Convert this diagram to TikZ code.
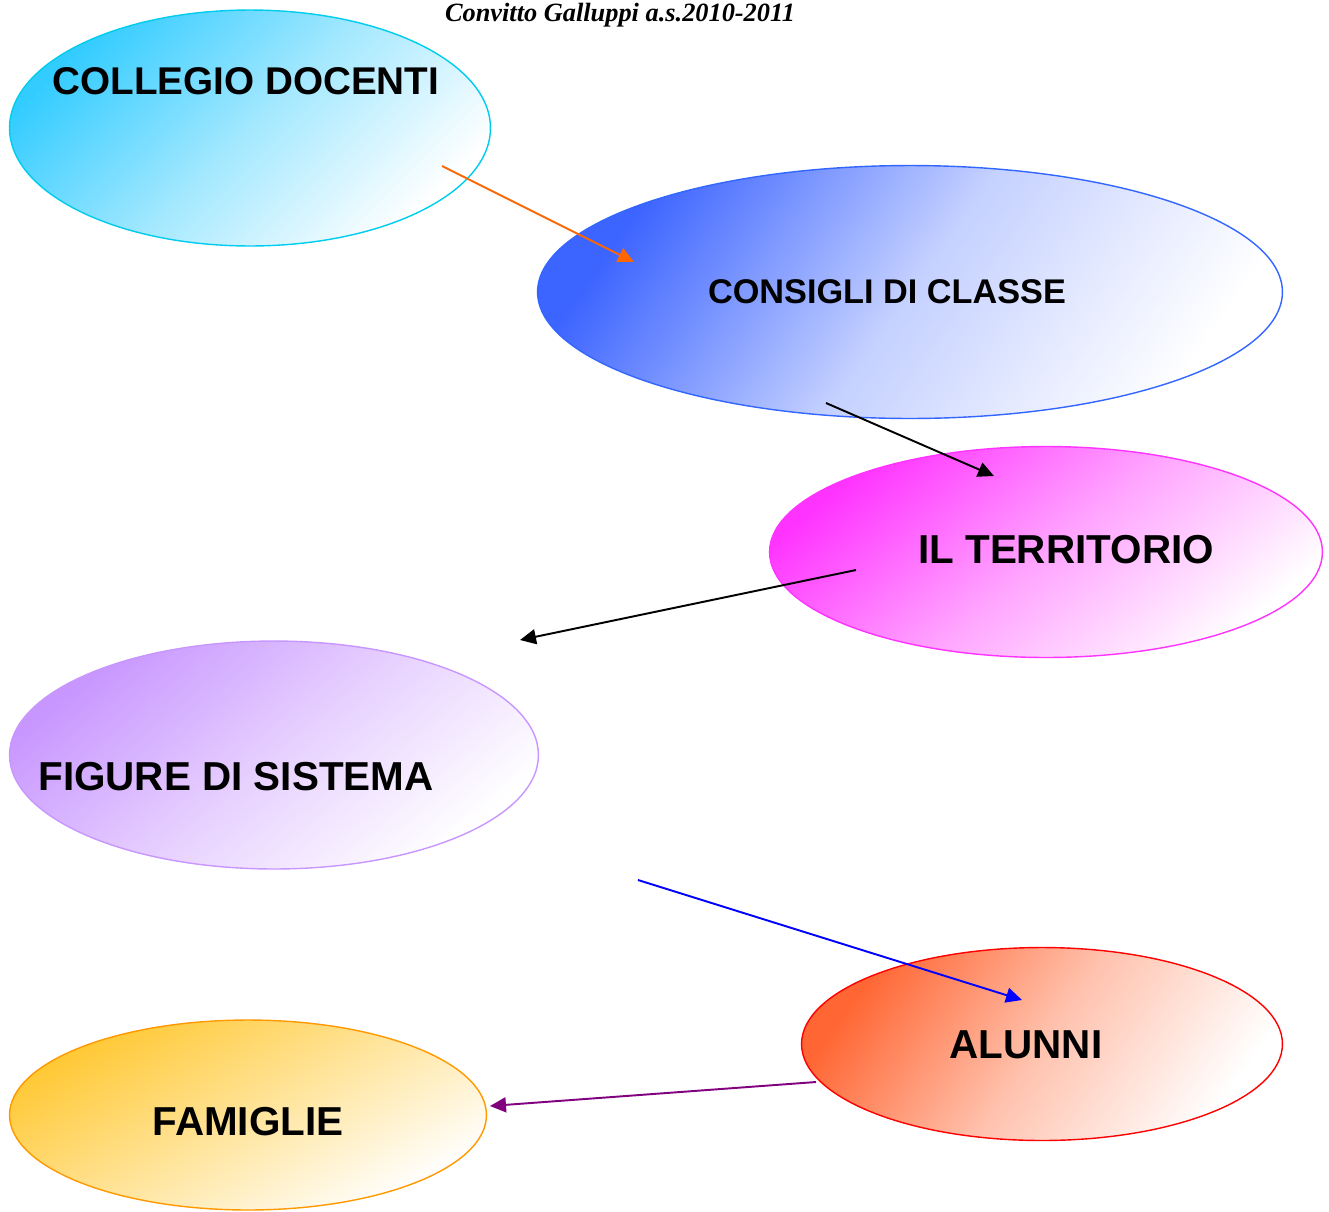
\documentclass[tikz,border=0pt]{standalone}
\usepackage{fontspec}
\setmainfont{Liberation Serif}
\setsansfont{Liberation Sans}
\usetikzlibrary{shapes.geometric,arrows.meta}

\definecolor{ciano}{RGB}{51,204,255}
\definecolor{cianobordo}{RGB}{0,204,238}
\definecolor{blu}{RGB}{60,100,255}
\definecolor{blubordo}{RGB}{51,102,255}
\definecolor{magenta}{RGB}{255,51,255}
\definecolor{lilla}{RGB}{200,150,255}
\definecolor{arancio}{RGB}{255,102,51}
\definecolor{giallo}{RGB}{255,200,51}
\definecolor{giallobordo}{RGB}{255,153,0}
\definecolor{freccia1}{RGB}{255,102,0}
\definecolor{viola}{RGB}{128,0,128}

\begin{document}
\begin{tikzpicture}[x=0.02cm,y=-0.02cm,
    bolla/.style={ellipse, line width=0.8pt, inner sep=0pt},
    testo/.style={font=\sffamily\bfseries\fontsize{23}{27}\selectfont, inner sep=0pt, anchor=base},
    freccia/.style={line width=1.1pt, -{Triangle[length=0.32cm,width=0.3cm]}}]
        \useasboundingbox (0,0) rectangle (1329,1211);

        % titolo
        \node[font=\bfseries\itshape\fontsize{15}{18}\selectfont, inner sep=0pt] (titolo) at (620,15) {Convitto Galluppi a.s.2010-2011};

        % ellissi
        \node[bolla, draw=cianobordo, top color=ciano, bottom color=white, middle color=ciano!45, shading angle=45,
              minimum width=9.62cm, minimum height=4.72cm] (collegio) at (250,128) {};
        \node[bolla, draw=blubordo, top color=blu, bottom color=white, middle color=blu!30, shading angle=55,
              minimum width=14.9cm, minimum height=5.06cm] (consigli) at (910,292) {};
        \node[bolla, draw=magenta, top color=magenta, bottom color=white, middle color=magenta!45, shading angle=40,
              minimum width=11.06cm, minimum height=4.22cm] (territorio) at (1046,552) {};
        \node[bolla, draw=lilla, top color=lilla, bottom color=white, middle color=lilla!45, shading angle=40,
              minimum width=10.58cm, minimum height=4.56cm] (figure) at (274,755) {};
        \node[bolla, draw=red, top color=arancio, bottom color=white, middle color=arancio!40, shading angle=55,
              minimum width=9.62cm, minimum height=3.86cm] (alunni) at (1042,1044) {};
        \node[bolla, draw=giallobordo, top color=giallo, bottom color=white, middle color=giallo!50, shading angle=30,
              minimum width=9.54cm, minimum height=3.8cm] (famiglie) at (248,1115) {};

        % scritte
        \node[testo, font=\sffamily\bfseries\fontsize{22}{26}\selectfont] (tcollegio) at (246,94) {COLLEGIO DOCENTI};
        \node[testo, font=\sffamily\bfseries\fontsize{19.5}{23}\selectfont] (tconsigli) at (887,303) {CONSIGLI DI CLASSE};
        \node[testo] (tterritorio) at (1066,563) {IL TERRITORIO};
        \node[testo] (tfigure) at (236,790) {FIGURE DI SISTEMA};
        \node[testo] (talunni) at (1026,1058) {ALUNNI};
        \node[testo] (tfamiglie) at (248,1135) {FAMIGLIE};

        % estremi delle frecce
        \coordinate (a1) at (442,166);
        \coordinate (b1) at (634,262);
        \coordinate (a2) at (826,403);
        \coordinate (b2) at (994,476);
        \coordinate (a3) at (856,570);
        \coordinate (b3) at (520,640);
        \coordinate (a4) at (638,880);
        \coordinate (b4) at (1022,1000);
        \coordinate (a5) at (816,1082);
        \coordinate (b5) at (490,1106);

        % frecce
        \draw[freccia, freccia1] (a1) -- (b1);
        \draw[freccia, black] (a2) -- (b2);
        \draw[freccia, black] (a3) -- (b3);
        \draw[freccia, blue] (a4) -- (b4);
        \draw[freccia, viola] (a5) -- (b5);
\end{tikzpicture}
\end{document}
